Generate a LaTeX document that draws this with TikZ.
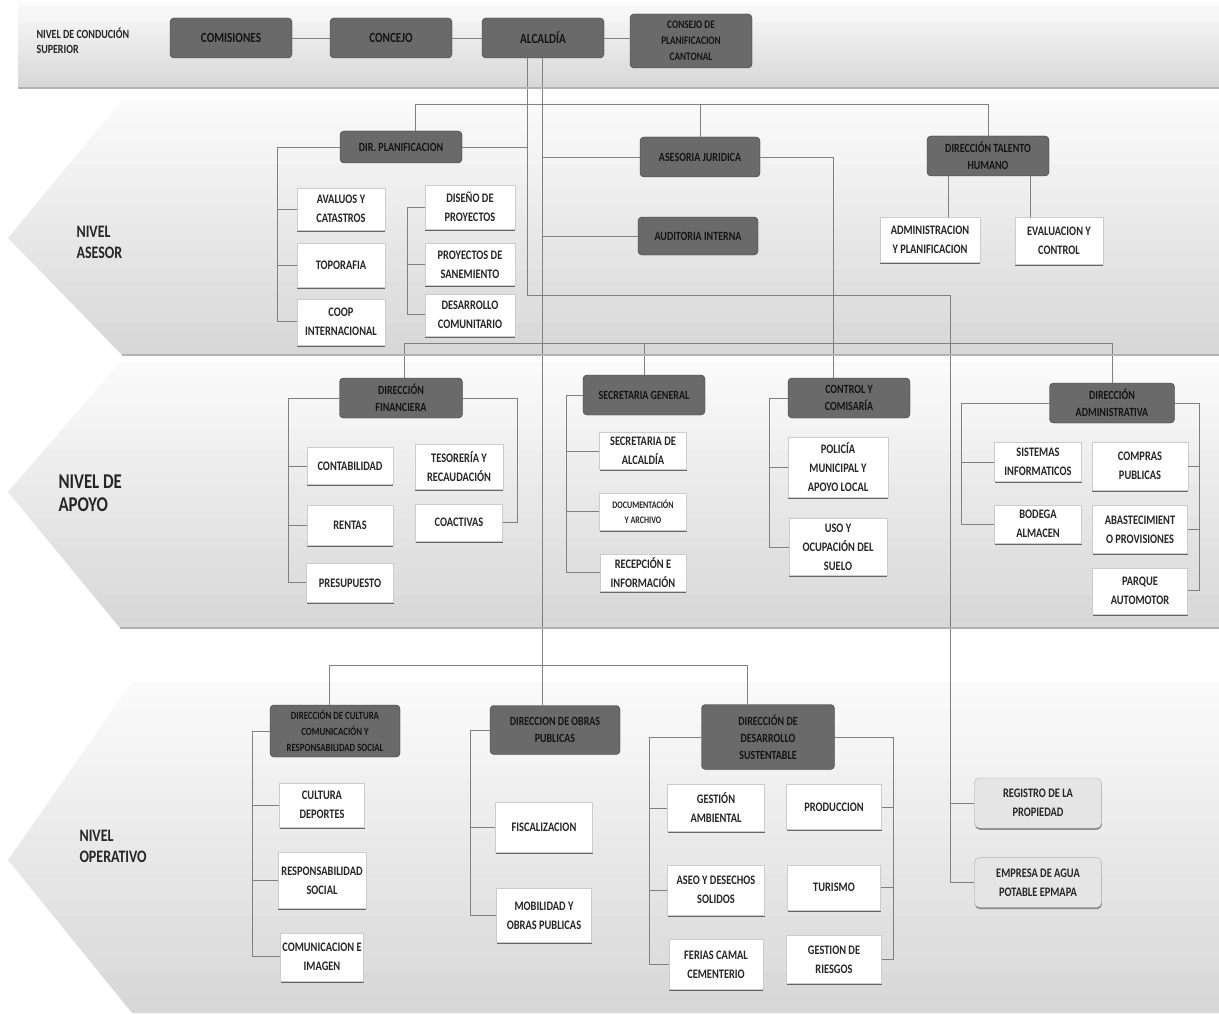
\documentclass[tikz,border=0pt]{standalone}
\usepackage{fontspec}
\newfontfamily\orgfont{Carlito}[FakeStretch=0.8]
\usetikzlibrary{positioning, shadows}

\definecolor{dkfill}{HTML}{6A6A6A}
\definecolor{dkline}{HTML}{333333}
\definecolor{dktext}{HTML}{141414}
\definecolor{wtext}{HTML}{262626}
\definecolor{lnkcol}{HTML}{808080}

\begin{document}
\begin{tikzpicture}[x=1pt, y=-1pt,
    dkbox/.style={rectangle, rounded corners=4pt, draw=dkline, fill=dkfill, text=dktext, align=center, inner sep=1pt, font=\orgfont\bfseries\fontsize{12.5}{17}\selectfont},
    topbox/.style={dkbox, minimum width=122pt, minimum height=40pt, font=\orgfont\bfseries\fontsize{14}{17}\selectfont},
    wbox/.style={rectangle, draw=gray!40, fill=white, text=wtext, align=center, inner sep=1pt, font=\orgfont\bfseries\fontsize{13}{19}\selectfont, drop shadow={shadow xshift=0.4pt, shadow yshift=-1.8pt, fill=black!65, opacity=0.9}},
    gbox/.style={rectangle, rounded corners=5pt, draw=gray!60, fill=gray!20, text=wtext, align=center, inner sep=1pt, font=\orgfont\bfseries\fontsize{13}{19}\selectfont, drop shadow={shadow xshift=0.4pt, shadow yshift=-1.8pt, fill=black!55, opacity=0.8}},
    lvltxt/.style={anchor=west, align=left, text=black!85, font=\orgfont\bfseries\fontsize{17.5}{21}\selectfont},
    bandedge/.style={draw=gray!60, line width=1.6pt},
    lnk/.style={draw=lnkcol, line width=0.7pt}]

\useasboundingbox (0,0) rectangle (1219,1014);

% Bands
\begin{scope}
  \clip (18,2) rectangle (1219,88);
  \foreach \k in {0,...,23} {
    \pgfmathtruncatemacro{\tone}{4+1.2*\k}
    \fill[gray!\tone] (0,{2+\k*86/24}) rectangle (1219,{2+(\k+1)*86/24+0.8});
  }
\end{scope}
\begin{scope}
  \clip (1219,100) -- (122,100) -- (8,238) -- (122,355) -- (1219,355) -- cycle;
  \foreach \k in {0,...,23} {
    \pgfmathtruncatemacro{\tone}{4+1.2*\k}
    \fill[gray!\tone] (0,{100+\k*255/24}) rectangle (1219,{100+(\k+1)*255/24+0.8});
  }
\end{scope}
\begin{scope}
  \clip (1219,362) -- (120,362) -- (8,492) -- (120,628) -- (1219,628) -- cycle;
  \foreach \k in {0,...,23} {
    \pgfmathtruncatemacro{\tone}{4+1.2*\k}
    \fill[gray!\tone] (0,{362+\k*266/24}) rectangle (1219,{362+(\k+1)*266/24+0.8});
  }
\end{scope}
\begin{scope}
  \clip (1219,682) -- (132,682) -- (8,860) -- (132,1013) -- (1219,1013) -- cycle;
  \foreach \k in {0,...,23} {
    \pgfmathtruncatemacro{\tone}{4+1.2*\k}
    \fill[gray!\tone] (0,{682+\k*331/24}) rectangle (1219,{682+(\k+1)*331/24+0.8});
  }
\end{scope}

% Nivel de conduccion superior
\node (comis) [topbox] at (231,38) {COMISIONES};
\node (concejo) [topbox] at (391,38) {CONCEJO};
\node (alcaldia) [topbox] at (543,38) {ALCALDÍA};
\node (consejo) [dkbox, minimum width=122pt, minimum height=54pt, font=\orgfont\bfseries\fontsize{11.5}{16}\selectfont] at (691,41) {CONSEJO DE\\PLANIFICACION\\CANTONAL};

% Nivel asesor
\node (dirplan) [dkbox, minimum width=122pt, minimum height=32pt] at (401,147) {DIR. PLANIFICACION};
\node (avaluos) [wbox, minimum width=88pt, minimum height=42pt] at (341,209) {AVALUOS Y\\CATASTROS};
\node (topo) [wbox, minimum width=88pt, minimum height=44pt, below=13pt of avaluos] {TOPORAFIA};
\node (coop) [wbox, minimum width=88pt, minimum height=46pt, below=11pt of topo] {COOP\\INTERNACIONAL};
\node (diseno) [wbox, minimum width=90pt, minimum height=44pt] at (470,207) {DISEÑO DE\\PROYECTOS};
\node (proysan) [wbox, minimum width=90pt, minimum height=42pt, below=14pt of diseno] {PROYECTOS DE\\SANEMIENTO};
\node (desacom) [wbox, minimum width=90pt, minimum height=42pt, below=8pt of proysan] {DESARROLLO\\COMUNITARIO};
\node (asesoria) [dkbox, minimum width=120pt, minimum height=40pt] at (700,157) {ASESORIA JURIDICA};
\node (auditoria) [dkbox, minimum width=120pt, minimum height=38pt] at (698,236) {AUDITORIA INTERNA};
\node (talento) [dkbox, minimum width=122pt, minimum height=40pt] at (988,156) {DIRECCIÓN TALENTO\\HUMANO};
\node (adminplan) [wbox, minimum width=100pt, minimum height=45pt] at (930,240) {ADMINISTRACION\\Y PLANIFICACION};
\node (evalctrl) [wbox, minimum width=88pt, minimum height=47pt] at (1059,241) {EVALUACION Y\\CONTROL};

% Nivel de apoyo
\node (dirfin) [dkbox, minimum width=123pt, minimum height=40pt] at (401,398) {DIRECCIÓN\\FINANCIERA};
\node (contab) [wbox, minimum width=86pt, minimum height=37pt] at (350,466) {CONTABILIDAD};
\node (rentas) [wbox, minimum width=86pt, minimum height=40pt, below=20pt of contab] {RENTAS};
\node (presup) [wbox, minimum width=87pt, minimum height=39pt, below=18pt of rentas] {PRESUPUESTO};
\node (tesor) [wbox, minimum width=88pt, minimum height=45pt] at (459,467) {TESORERÍA Y\\RECAUDACIÓN};
\node (coact) [wbox, minimum width=87pt, minimum height=37pt, below=14pt of tesor] {COACTIVAS};
\node (secgen) [dkbox, minimum width=122pt, minimum height=40pt] at (644,395) {SECRETARIA GENERAL};
\node (secalc) [wbox, minimum width=87pt, minimum height=37pt] at (643,451) {SECRETARIA DE\\ALCALDÍA};
\node (docarch) [wbox, minimum width=87pt, minimum height=37pt, below=23pt of secalc, font=\orgfont\bfseries\fontsize{10}{15}\selectfont] {DOCUMENTACIÓN\\Y ARCHIVO};
\node (recep) [wbox, minimum width=86pt, minimum height=37pt, below=24pt of docarch] {RECEPCIÓN E\\INFORMACIÓN};
\node (control) [dkbox, minimum width=122pt, minimum height=40pt] at (849,398) {CONTROL Y\\COMISARÍA};
\node (policia) [wbox, minimum width=100pt, minimum height=60pt] at (838,467) {POLICÍA\\MUNICIPAL Y\\APOYO LOCAL};
\node (uso) [wbox, minimum width=98pt, minimum height=57pt, below=21pt of policia] {USO Y\\OCUPACIÓN DEL\\SUELO};
\node (diradm) [dkbox, minimum width=125pt, minimum height=40pt] at (1112,403) {DIRECCIÓN\\ADMINISTRATIVA};
\node (sistemas) [wbox, minimum width=87pt, minimum height=39pt] at (1038,462) {SISTEMAS\\INFORMATICOS};
\node (bodega) [wbox, minimum width=87pt, minimum height=38pt, below=23pt of sistemas] {BODEGA\\ALMACEN};
\node (compras) [wbox, minimum width=96pt, minimum height=48pt] at (1140,466) {COMPRAS\\PUBLICAS};
\node (abast) [wbox, minimum width=95pt, minimum height=48pt, below=15pt of compras] {ABASTECIMIENT\\O PROVISIONES};
\node (parque) [wbox, minimum width=95pt, minimum height=46pt, below=14pt of abast] {PARQUE\\AUTOMOTOR};

% Nivel operativo
\node (dircult) [dkbox, minimum width=130pt, minimum height=52pt, font=\orgfont\bfseries\fontsize{11}{16}\selectfont] at (335,731) {DIRECCIÓN DE CULTURA\\COMUNICACIÓN Y\\RESPONSABILIDAD SOCIAL};
\node (cultura) [wbox, minimum width=85pt, minimum height=44pt] at (322,805) {CULTURA\\DEPORTES};
\node (respsoc) [wbox, minimum width=88pt, minimum height=56pt, below=25pt of cultura] {RESPONSABILIDAD\\SOCIAL};
\node (comunic) [wbox, minimum width=83pt, minimum height=48pt, below=24pt of respsoc] {COMUNICACION E\\IMAGEN};
\node (dirobras) [dkbox, minimum width=130pt, minimum height=49pt] at (555,730) {DIRECCION DE OBRAS\\PUBLICAS};
\node (fiscal) [wbox, minimum width=97pt, minimum height=50pt] at (544,827) {FISCALIZACION};
\node (movil) [wbox, minimum width=95pt, minimum height=54pt, below=36pt of fiscal] {MOBILIDAD Y\\OBRAS PUBLICAS};
\node (dirdes) [dkbox, minimum width=133pt, minimum height=65pt] at (768,737) {DIRECCIÓN DE\\DESARROLLO\\SUSTENTABLE};
\node (gestamb) [wbox, minimum width=97pt, minimum height=47pt] at (716,808) {GESTIÓN\\AMBIENTAL};
\node (aseo) [wbox, minimum width=97pt, minimum height=50pt, below=33pt of gestamb] {ASEO Y DESECHOS\\SOLIDOS};
\node (ferias) [wbox, minimum width=94pt, minimum height=50pt, below=24pt of aseo] {FERIAS CAMAL\\CEMENTERIO};
\node (produc) [wbox, minimum width=95pt, minimum height=45pt] at (834,807) {PRODUCCION};
\node (turismo) [wbox, minimum width=93pt, minimum height=45pt, below=35pt of produc] {TURISMO};
\node (riesgos) [wbox, minimum width=95pt, minimum height=48pt, below=25pt of turismo] {GESTION DE\\RIESGOS};
\node (registro) [gbox, minimum width=127pt, minimum height=50pt] at (1038,803) {REGISTRO DE LA\\PROPIEDAD};
\node (empresa) [gbox, minimum width=127pt, minimum height=50pt, below=29pt of registro] {EMPRESA DE AGUA\\POTABLE EPMAPA};

% Level labels
\node (lvlsup) [lvltxt, font=\orgfont\bfseries\fontsize{12.5}{15}\selectfont] at (33,41) {NIVEL DE CONDUCIÓN\\SUPERIOR};
\node (lvlase) [lvltxt] at (73,242) {NIVEL\\ASESOR};
\node (lvlapo) [lvltxt, font=\orgfont\bfseries\fontsize{21}{23}\selectfont] at (55,493) {NIVEL DE\\APOYO};
\node (lvlope) [lvltxt] at (76,846) {NIVEL\\OPERATIVO};

% Lines
\coordinate (trunkA) at ([xshift=-16pt]alcaldia.south);
\coordinate (trunkB) at ([xshift=-1pt]alcaldia.south);
\coordinate (busAs) at (0,104);
\coordinate (busLo) at (950,295);
\coordinate (busAp) at (0,343);
\coordinate (busOp) at (0,665);

\draw[lnk] (comis) -- (concejo) -- (alcaldia);
\draw[lnk] (alcaldia.east) -- (alcaldia.east -| consejo.west);
\draw[lnk] (trunkA) |- (busLo) -- (busLo |- empresa.west) -- (empresa.west);
\draw[lnk] (busLo |- registro.west) -- (registro.west);
\draw[lnk] (trunkB) -- (trunkB |- dirobras.north);

\draw[lnk] ([xshift=14pt]dirplan.north) |- (busAs -| talento.north) -- (talento.north);
\draw[lnk] (asesoria.north) -- (asesoria.north |- busAs);
\draw[lnk] (dirplan.east) -- (dirplan.east -| trunkA);
\draw[lnk] (asesoria.west) -- (asesoria.west -| trunkB);
\draw[lnk] (auditoria.west) -- (auditoria.west -| trunkB);
\draw[lnk] (asesoria.east) -| ([xshift=-16pt]control.north);
\draw[lnk] (dirplan.west) -| ([xshift=-19pt]coop.west) -- (coop.west);
\draw[lnk] (avaluos.west) -- ++(-19,0);
\draw[lnk] (topo.west) -- ++(-19,0);
\draw[lnk] (diseno.west) -- ++(-17,0) |- (desacom.west);
\draw[lnk] (proysan.west) -- ++(-17,0);
\draw[lnk] ([xshift=18pt]adminplan.north) -- ([xshift=18pt]adminplan.north |- talento.south);
\draw[lnk] ([xshift=-29pt]evalctrl.north) -- ([xshift=-29pt]evalctrl.north |- talento.south);

\draw[lnk] ([xshift=3pt]dirfin.north) |- (busAp -| diradm.north) -- (diradm.north);
\draw[lnk] (secgen.north) -- (secgen.north |- busAp);
\draw[lnk] (dirfin.west) -| ([xshift=-18pt]presup.west) -- (presup.west);
\draw[lnk] (contab.west) -- ++(-18,0);
\draw[lnk] (rentas.west) -- ++(-18,0);
\draw[lnk] (dirfin.east) -| ([xshift=14.5pt]coact.east) -- (coact.east);
\draw[lnk] (secgen.west) -| ([xshift=-33.5pt]recep.west) -- (recep.west);
\draw[lnk] (secalc.west) -- ++(-33.5,0);
\draw[lnk] (docarch.west) -- ++(-33.5,0);
\draw[lnk] (control.west) -| ([xshift=-19pt]uso.west) -- (uso.west);
\draw[lnk] (policia.west) -- ++(-18,0);
\draw[lnk] (diradm.west) -| ([xshift=-32.5pt]bodega.west) -- (bodega.west);
\draw[lnk] (sistemas.west) -- ++(-32.5,0);
\draw[lnk] (diradm.east) -| ([xshift=11.5pt]parque.east) -- (parque.east);
\draw[lnk] (compras.east) -- ++(11,0);
\draw[lnk] (abast.east) -- ++(11.5,0);

\draw[lnk] ([xshift=-6pt]dircult.north) |- ([xshift=-21pt]dirdes.north |- busOp) -- ([xshift=-21pt]dirdes.north);
\draw[lnk] (dircult.west) -| ([xshift=-27.5pt]comunic.west) -- (comunic.west);
\draw[lnk] (cultura.west) -- ++(-26.5,0);
\draw[lnk] (respsoc.west) -- ++(-25,0);
\draw[lnk] (dirobras.west) -| ([xshift=-25.5pt]movil.west) -- (movil.west);
\draw[lnk] (fiscal.west) -- ++(-24.5,0);
\draw[lnk] (dirdes.west) -| ([xshift=-19pt]ferias.west) -- (ferias.west);
\draw[lnk] (gestamb.west) -- ++(-17.5,0);
\draw[lnk] (aseo.west) -- ++(-17.5,0);
\draw[lnk] (dirdes.east) -| ([xshift=11.5pt]riesgos.east) -- (riesgos.east);
\draw[lnk] (produc.east) -- ++(11.5,0);
\draw[lnk] (turismo.east) -- ++(12.5,0);

% Band edges
\draw[bandedge] (18,88) -- (1219,88);
\draw[bandedge] (122,355) -- (1219,355);
\draw[bandedge] (120,628) -- (1219,628);
\end{tikzpicture}
\end{document}
